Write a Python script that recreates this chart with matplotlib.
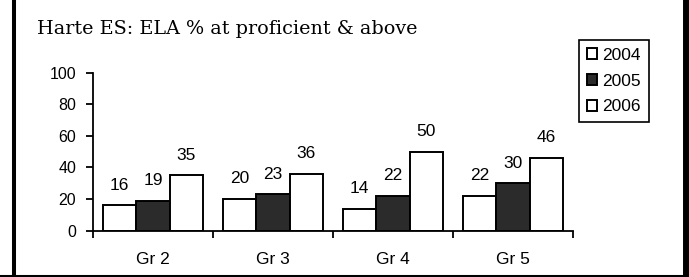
import numpy as np
import matplotlib
matplotlib.use("Agg")
import matplotlib.pyplot as plt
from matplotlib.lines import Line2D

grades = ["Gr 2", "Gr 3", "Gr 4", "Gr 5"]
years = ["2004", "2005", "2006"]
y2004 = [16, 20, 14, 22]
y2005 = [19, 23, 22, 30]
y2006 = [35, 36, 50, 46]

fig = plt.figure(figsize=(6.89, 2.77), dpi=100)
ax = fig.add_axes([0.1350, 0.167, 0.6966, 0.571])

x = np.arange(len(grades))
w = 0.278
colors = ["white", "#2b2b2b", "white"]
for i, (vals, c, lab) in enumerate(zip([y2004, y2005, y2006], colors, years)):
    bars = ax.bar(x + (i - 1) * w, vals, w, color=c, edgecolor="black",
                  linewidth=1.4, label=lab)
    for b, v in zip(bars, vals):
        ax.annotate(str(v), (b.get_x() + b.get_width() / 2, v),
                    xytext=(0, 14.5), textcoords="offset points",
                    ha="center", va="center", fontsize=12.5,
                    family="Liberation Sans")

ax.set_xlim(-0.5, 3.5)
ax.set_ylim(0, 100)
ax.set_yticks([0, 20, 40, 60, 80, 100])
ax.set_xticks(x)
ax.set_xticklabels(grades)
ax.set_xticks(np.arange(-0.5, 4, 1), minor=True)
ax.tick_params(axis="x", which="major", length=0, pad=15)
ax.tick_params(axis="x", which="minor", length=5, width=1.3)
ax.tick_params(axis="y", length=5, width=1.3, pad=7)
for lbl in ax.get_xticklabels():
    lbl.set_fontsize(12.5)
    lbl.set_family("Liberation Sans")
for lbl in ax.get_yticklabels():
    lbl.set_fontsize(11.5)
    lbl.set_family("Liberation Sans")
for s in ["top", "right"]:
    ax.spines[s].set_visible(False)
ax.spines["left"].set_linewidth(1.3)
ax.spines["bottom"].set_linewidth(1.3)

fig.text(37 / 689, 1 - 29 / 277, "Harte ES: ELA % at proficient & above",
         family="DejaVu Serif", fontsize=13.8, va="center", ha="left")

leg = fig.legend(loc="upper left", bbox_to_anchor=(579 / 689, 1 - 40 / 277),
                 prop={"family": "Liberation Sans", "size": 12.5},
                 fancybox=False, edgecolor="black", framealpha=1,
                 handlelength=0.6, handleheight=0.6, handletextpad=0.3,
                 labelspacing=0.62, borderpad=0.45, borderaxespad=0)
leg.get_frame().set_linewidth(1.2)

# outer frame (left, right, bottom only)
fig.add_artist(Line2D([14 / 689, 14 / 689], [0, 1], color="black", lw=2.9,
                      transform=fig.transFigure))
fig.add_artist(Line2D([685.5 / 689, 685.5 / 689], [0, 1], color="black", lw=5,
                      transform=fig.transFigure))
fig.add_artist(Line2D([0, 1], [1.5 / 277, 1.5 / 277], color="black", lw=2.2,
                      transform=fig.transFigure))

fig.savefig("out.png", dpi=100)
